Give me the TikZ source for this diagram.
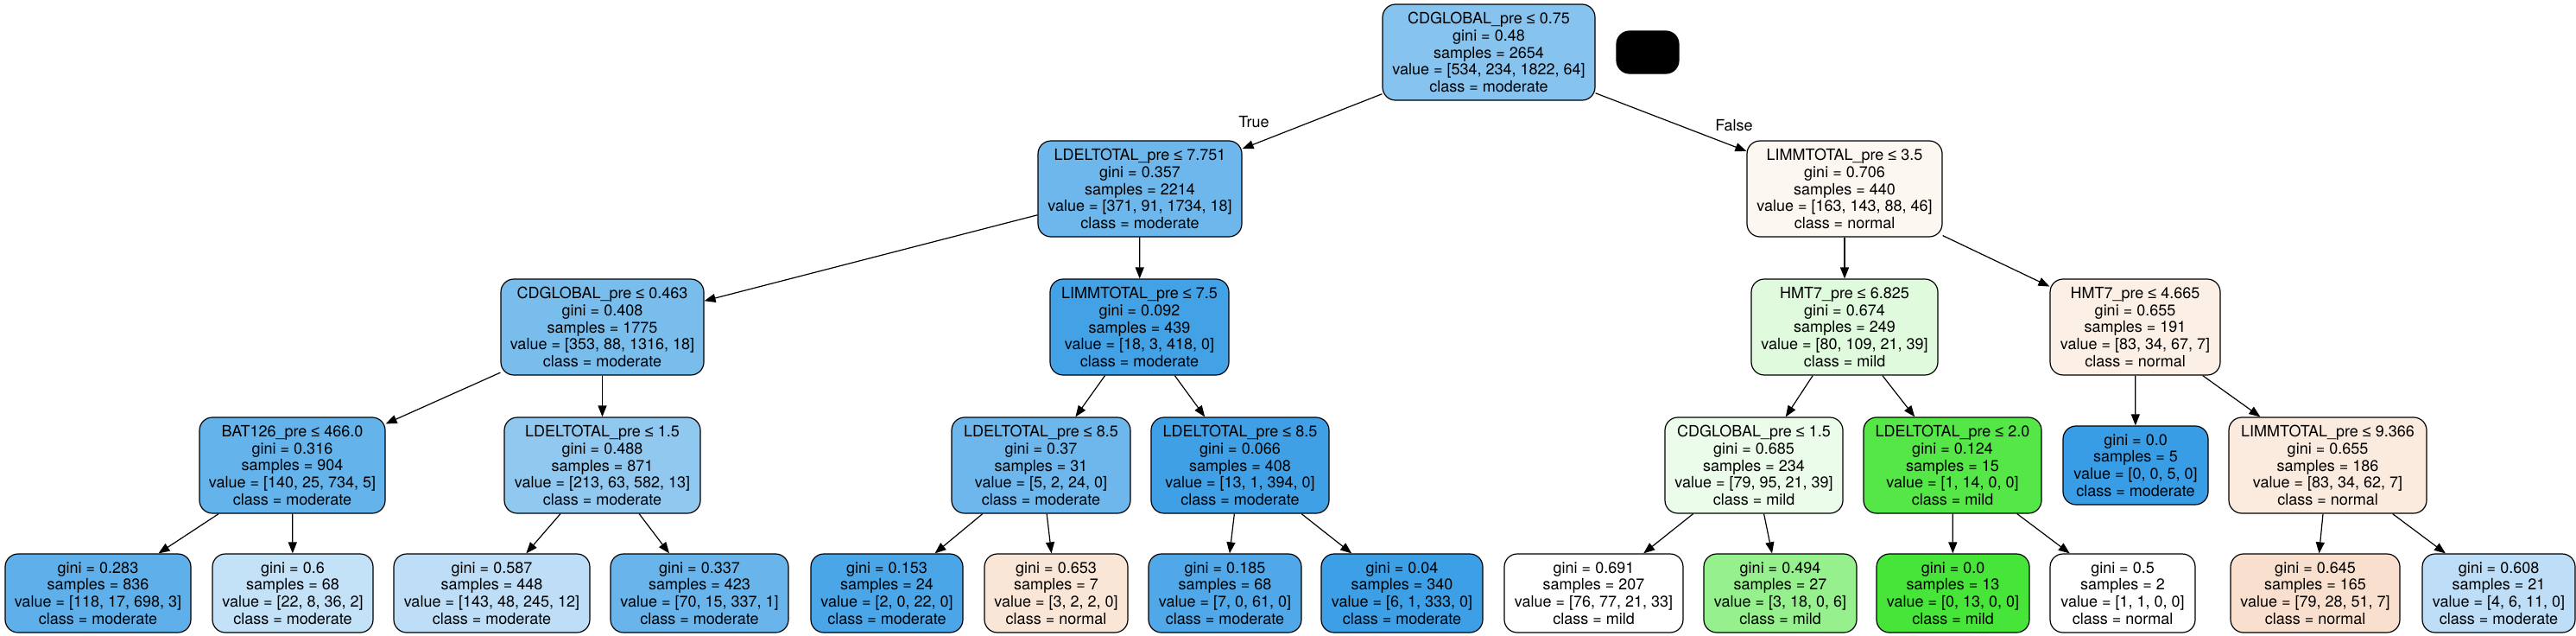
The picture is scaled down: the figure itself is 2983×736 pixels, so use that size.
\documentclass[tikz,border=0pt]{standalone}
\usepackage{fontspec}
\setmainfont{TeX Gyre Heros}
\newfontfamily\lesymfont{Liberation Sans}
\newcommand\lesym{{\lesymfont ≤}}
\usetikzlibrary{arrows.meta}
\definecolor{cn0}{RGB}{135,195,239}
\definecolor{cn1}{RGB}{109,183,236}
\definecolor{cn2}{RGB}{121,189,237}
\definecolor{cn3}{RGB}{101,179,235}
\definecolor{cn4}{RGB}{95,176,234}
\definecolor{cn5}{RGB}{195,225,247}
\definecolor{cn6}{RGB}{144,200,240}
\definecolor{cn7}{RGB}{189,222,246}
\definecolor{cn8}{RGB}{105,181,235}
\definecolor{cn9}{RGB}{67,162,230}
\definecolor{cn10}{RGB}{110,183,236}
\definecolor{cn11}{RGB}{75,166,231}
\definecolor{cn12}{RGB}{250,230,215}
\definecolor{cn13}{RGB}{64,160,230}
\definecolor{cn14}{RGB}{80,168,232}
\definecolor{cn15}{RGB}{61,159,229}
\definecolor{cn16}{RGB}{253,247,242}
\definecolor{cn17}{RGB}{223,250,221}
\definecolor{cn18}{RGB}{236,252,235}
\definecolor{cn19}{RGB}{254,255,254}
\definecolor{cn20}{RGB}{150,240,142}
\definecolor{cn21}{RGB}{84,231,71}
\definecolor{cn22}{RGB}{71,229,57}
\definecolor{cn23}{RGB}{255,255,255}
\definecolor{cn24}{RGB}{252,239,229}
\definecolor{cn25}{RGB}{57,157,229}
\definecolor{cn26}{RGB}{251,234,222}
\definecolor{cn27}{RGB}{249,224,206}
\definecolor{cn28}{RGB}{189,222,246}
\tikzset{
  tnode/.style={draw=black, line width=1.2pt, rounded corners=15pt, align=center,
    inner sep=0pt, font=\fontsize{18}{19.7}\selectfont, text=black},
  big/.style={minimum height=111pt},
  leaf/.style={minimum height=91pt},
  edgearrow/.style={line width=1.2pt, draw=black, -{Triangle[length=13pt,width=10pt]}},
  elabel/.style={font=\fontsize{18}{19.7}\selectfont, inner sep=0pt}
}
\begin{document}
\begin{tikzpicture}[x=1pt,y=1pt]
\useasboundingbox (0,0) rectangle (2983,-736);
% level 0
\node[tnode,big,fill=cn0,minimum width=246pt] (n0) at (1724,-60.5) {CDGLOBAL\_pre \lesym{} 0.75\\gini = 0.48\\samples = 2654\\value = [534, 234, 1822, 64]\\class = moderate};
\node[draw=black, fill=black, line width=1.2pt, rounded corners=15pt, minimum width=72pt, minimum height=49pt, inner sep=0pt] (blk) at (1908,-60.5) {};
% level 1
\node[tnode,big,fill=cn1,minimum width=236pt] (n1) at (1320,-218.5) {LDELTOTAL\_pre \lesym{} 7.751\\gini = 0.357\\samples = 2214\\value = [371, 91, 1734, 18]\\class = moderate};
\node[tnode,big,fill=cn16,minimum width=226pt] (n16) at (2136,-218.5) {LIMMTOTAL\_pre \lesym{} 3.5\\gini = 0.706\\samples = 440\\value = [163, 143, 88, 46]\\class = normal};
% level 2
\node[tnode,big,fill=cn2,minimum width=235pt] (n2) at (697.5,-378.5) {CDGLOBAL\_pre \lesym{} 0.463\\gini = 0.408\\samples = 1775\\value = [353, 88, 1316, 18]\\class = moderate};
\node[tnode,big,fill=cn9,minimum width=207pt] (n9) at (1319.5,-378.5) {LIMMTOTAL\_pre \lesym{} 7.5\\gini = 0.092\\samples = 439\\value = [18, 3, 418, 0]\\class = moderate};
\node[tnode,big,fill=cn17,minimum width=216pt] (n17) at (2136,-378.5) {HMT7\_pre \lesym{} 6.825\\gini = 0.674\\samples = 249\\value = [80, 109, 21, 39]\\class = mild};
\node[tnode,big,fill=cn24,minimum width=197pt] (n24) at (2472.5,-378.5) {HMT7\_pre \lesym{} 4.665\\gini = 0.655\\samples = 191\\value = [83, 34, 67, 7]\\class = normal};
% level 3
\node[tnode,big,fill=cn3,minimum width=215pt] (n3) at (338.5,-538.5) {BAT126\_pre \lesym{} 466.0\\gini = 0.316\\samples = 904\\value = [140, 25, 734, 5]\\class = moderate};
\node[tnode,big,fill=cn6,minimum width=227pt] (n6) at (697.5,-538.5) {LDELTOTAL\_pre \lesym{} 1.5\\gini = 0.488\\samples = 871\\value = [213, 63, 582, 13]\\class = moderate};
\node[tnode,big,fill=cn10,minimum width=207pt] (n10) at (1205.5,-538.5) {LDELTOTAL\_pre \lesym{} 8.5\\gini = 0.37\\samples = 31\\value = [5, 2, 24, 0]\\class = moderate};
\node[tnode,big,fill=cn13,minimum width=206pt] (n13) at (1436,-538.5) {LDELTOTAL\_pre \lesym{} 8.5\\gini = 0.066\\samples = 408\\value = [13, 1, 394, 0]\\class = moderate};
\node[tnode,big,fill=cn18,minimum width=206pt] (n18) at (2031,-538.5) {CDGLOBAL\_pre \lesym{} 1.5\\gini = 0.685\\samples = 234\\value = [79, 95, 21, 39]\\class = mild};
\node[tnode,big,fill=cn21,minimum width=206pt] (n21) at (2261,-538.5) {LDELTOTAL\_pre \lesym{} 2.0\\gini = 0.124\\samples = 15\\value = [1, 14, 0, 0]\\class = mild};
\node[tnode,leaf,fill=cn25,minimum width=168pt] (n25) at (2473,-538.5) {gini = 0.0\\samples = 5\\value = [0, 0, 5, 0]\\class = moderate};
\node[tnode,big,fill=cn26,minimum width=229pt] (n26) at (2695.5,-538.5) {LIMMTOTAL\_pre \lesym{} 9.366\\gini = 0.655\\samples = 186\\value = [83, 34, 62, 7]\\class = normal};
% leaves
\node[tnode,leaf,fill=cn4,minimum width=215pt] (n4) at (113.5,-686.5) {gini = 0.283\\samples = 836\\value = [118, 17, 698, 3]\\class = moderate};
\node[tnode,leaf,fill=cn5,minimum width=186pt] (n5) at (339,-686.5) {gini = 0.6\\samples = 68\\value = [22, 8, 36, 2]\\class = moderate};
\node[tnode,leaf,fill=cn7,minimum width=227pt] (n7) at (569.5,-686.5) {gini = 0.587\\samples = 448\\value = [143, 48, 245, 12]\\class = moderate};
\node[tnode,leaf,fill=cn8,minimum width=206pt] (n8) at (810,-686.5) {gini = 0.337\\samples = 423\\value = [70, 15, 337, 1]\\class = moderate};
\node[tnode,leaf,fill=cn11,minimum width=176pt] (n11) at (1027,-686.5) {gini = 0.153\\samples = 24\\value = [2, 0, 22, 0]\\class = moderate};
\node[tnode,leaf,fill=cn12,minimum width=166pt] (n12) at (1223,-686.5) {gini = 0.653\\samples = 7\\value = [3, 2, 2, 0]\\class = normal};
\node[tnode,leaf,fill=cn14,minimum width=177pt] (n14) at (1418.5,-686.5) {gini = 0.185\\samples = 68\\value = [7, 0, 61, 0]\\class = moderate};
\node[tnode,leaf,fill=cn15,minimum width=187pt] (n15) at (1623.5,-686.5) {gini = 0.04\\samples = 340\\value = [6, 1, 333, 0]\\class = moderate};
\node[tnode,leaf,fill=cn19,minimum width=207pt] (n19) at (1845.5,-686.5) {gini = 0.691\\samples = 207\\value = [76, 77, 21, 33]\\class = mild};
\node[tnode,leaf,fill=cn20,minimum width=177pt] (n20) at (2061.5,-686.5) {gini = 0.494\\samples = 27\\value = [3, 18, 0, 6]\\class = mild};
\node[tnode,leaf,fill=cn22,minimum width=177pt] (n22) at (2261.5,-686.5) {gini = 0.0\\samples = 13\\value = [0, 13, 0, 0]\\class = mild};
\node[tnode,leaf,fill=cn23,minimum width=168pt] (n23) at (2458,-686.5) {gini = 0.5\\samples = 2\\value = [1, 1, 0, 0]\\class = normal};
\node[tnode,leaf,fill=cn27,minimum width=196pt] (n27) at (2681,-686.5) {gini = 0.645\\samples = 165\\value = [79, 28, 51, 7]\\class = normal};
\node[tnode,leaf,fill=cn28,minimum width=177pt] (n28) at (2893.5,-686.5) {gini = 0.608\\samples = 21\\value = [4, 6, 11, 0]\\class = moderate};
% edge labels
\node[elabel] (lT) at (1452,-141) {True};
\node[elabel] (lF) at (2008,-145) {False};
% edges
\draw[edgearrow] (n0) -- (n1);
\draw[edgearrow] (n0) -- (n16);
\draw[edgearrow] (n1) -- (n2);
\draw[edgearrow] (n1) -- (n9);
\draw[edgearrow] (n2) -- (n3);
\draw[edgearrow] (n2) -- (n6);
\draw[edgearrow] (n3) -- (n4);
\draw[edgearrow] (n3) -- (n5);
\draw[edgearrow] (n6) -- (n7);
\draw[edgearrow] (n6) -- (n8);
\draw[edgearrow] (n9) -- (n10);
\draw[edgearrow] (n9) -- (n13);
\draw[edgearrow] (n10) -- (n11);
\draw[edgearrow] (n10) -- (n12);
\draw[edgearrow] (n13) -- (n14);
\draw[edgearrow] (n13) -- (n15);
\draw[edgearrow] (n16) -- (n17);
\draw[edgearrow] (n16) -- (n24);
\draw[edgearrow] (n17) -- (n18);
\draw[edgearrow] (n17) -- (n21);
\draw[edgearrow] (n18) -- (n19);
\draw[edgearrow] (n18) -- (n20);
\draw[edgearrow] (n21) -- (n22);
\draw[edgearrow] (n21) -- (n23);
\draw[edgearrow] (n24) -- (n25);
\draw[edgearrow] (n24) -- (n26);
\draw[edgearrow] (n26) -- (n27);
\draw[edgearrow] (n26) -- (n28);
\end{tikzpicture}
\end{document}
